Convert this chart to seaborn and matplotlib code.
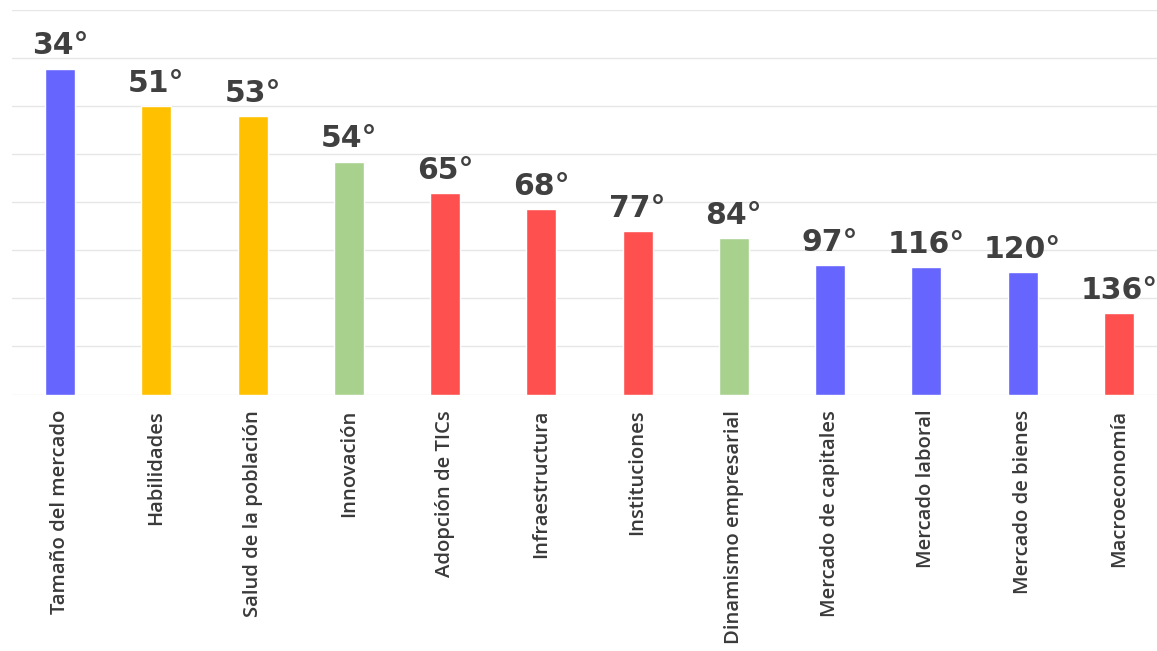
import matplotlib
matplotlib.use("Agg")
import matplotlib.pyplot as plt
import seaborn as sns
import pandas as pd

categories = ["Tamaño del mercado", "Habilidades", "Salud de la población", "Innovación",
              "Adopción de TICs", "Infraestructura", "Instituciones", "Dinamismo empresarial",
              "Mercado de capitales", "Mercado laboral", "Mercado de bienes", "Macroeconomía"]
scores = [67.9, 60.0, 58.0, 48.5, 42.0, 38.6, 34.0, 32.5, 26.9, 26.5, 25.5, 16.9]
ranks = [34, 51, 53, 54, 65, 68, 77, 84, 97, 116, 120, 136]
bar_colors = ["#6666FF", "#FFC000", "#FFC000", "#A9D18E", "#FF5050", "#FF5050",
              "#FF5050", "#A9D18E", "#6666FF", "#6666FF", "#6666FF", "#FF5050"]

df = pd.DataFrame({"cat": categories, "score": scores})

sns.set_theme(style="white")
plt.rcParams['font.family'] = ['Open Sans', 'DejaVu Sans']

fig = plt.figure(figsize=(11.57, 6.51), dpi=100)
ax = fig.add_axes([12/1157, 0.394, 1155/1157, 0.59])

sns.barplot(data=df, x="cat", y="score", hue="cat", palette=bar_colors,
            legend=False, width=0.31, ax=ax, saturation=1)

ax.set_ylim(0, 80)
ax.set_xlim(-0.5, len(categories) - 0.5)
ax.set_yticks(range(0, 81, 10))
ax.yaxis.grid(True, color="#e6e6e6", linewidth=1)
ax.set_axisbelow(True)
ax.tick_params(axis="y", left=False, labelleft=False)
ax.tick_params(axis="x", bottom=False, pad=5)
for s in ax.spines.values():
    s.set_visible(False)
ax.set_xlabel("")
ax.set_ylabel("")
ax.set_xticks(range(len(categories)))
ax.set_xticklabels(categories, rotation=90, fontsize=14.6, color="#3a3a3a",
                   fontweight="semibold")

for i, (v, r) in enumerate(zip(scores, ranks)):
    ax.annotate(f"{r}°", (i, v), xytext=(0, 6), textcoords="offset points",
                ha="center", va="bottom", fontsize=21.5, fontweight="bold",
                color="#404040", family=["DejaVu Sans"])

fig.savefig("out.png", dpi=100)
